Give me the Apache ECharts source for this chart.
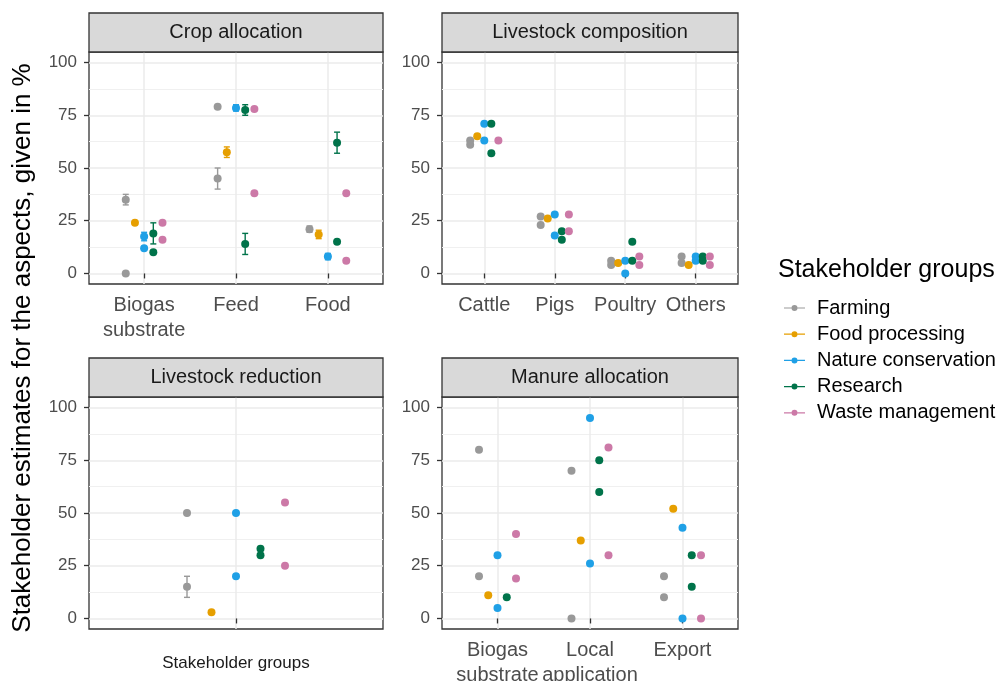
<!DOCTYPE html>
<html><head><meta charset="utf-8">
<script src="https://cdn.jsdelivr.net/npm/echarts@6/dist/echarts.min.js"></script>
<style>html,body{margin:0;padding:0;background:#fff}#c{width:1000px;height:681px}</style>
</head><body><div id="c"></div>
<script>
// ---------- data ----------
const groups = ['Farming', 'Food processing', 'Nature conservation', 'Research', 'Waste management'];
const groupColors = ['#999999', '#E69F00', '#1FA0E6', '#00734A', '#CC79A7'];
const yTicks = [0, 25, 50, 75, 100];
const yMinorTicks = [12.5, 37.5, 62.5, 87.5];

const panelTitles = ['Crop allocation', 'Livestock composition', 'Livestock reduction', 'Manure allocation'];
const cropCategories = ['Biogas\nsubstrate', 'Feed', 'Food'];
const compositionCategories = ['Cattle', 'Pigs', 'Poultry', 'Others'];
const reductionCategories = ['Stakeholder groups'];
const manureCategories = ['Biogas\nsubstrate', 'Local\napplication', 'Export'];

// rows: [category index, group index, value (%), error bar half-width (0 = none)]
const cropRows = [
  [0,0,35,2.5],[0,0,0,0],[0,1,24,0],[0,2,17.5,2],[0,2,12,0],[0,3,19,5],[0,3,10,0],[0,4,24,0],[0,4,16,0],
  [1,0,79,0],[1,0,45,5],[1,1,57.5,2.5],[1,2,78.5,1.5],[1,3,77.5,2.5],[1,3,14,5],[1,4,78,0],[1,4,38,0],
  [2,0,21,1.5],[2,1,18.5,2],[2,2,8,1.5],[2,3,62,5],[2,3,15,0],[2,4,38,0],[2,4,6,0]
];
const compositionRows = [
  [0,0,63,0],[0,0,61,0],[0,1,65,0],[0,2,71,0],[0,2,63,0],[0,3,71,0],[0,3,57,0],[0,4,63,0],
  [1,0,27,0],[1,0,23,0],[1,1,26,0],[1,2,28,0],[1,2,18,0],[1,3,20,0],[1,3,16,0],[1,4,28,0],[1,4,20,0],
  [2,0,6,0],[2,0,4,0],[2,1,5,0],[2,2,6,0],[2,2,0,0],[2,3,15,0],[2,3,6,0],[2,4,8,0],[2,4,4,0],
  [3,0,8,0],[3,0,5,0],[3,1,4,0],[3,2,8,0],[3,2,6,0],[3,3,8,0],[3,3,6,0],[3,4,8,0],[3,4,4,0]
];
const reductionRows = [
  [0,0,50,0],[0,0,15,5],[0,1,3,0],[0,2,50,0],[0,2,20,0],[0,3,33,0],[0,3,30,0],[0,4,55,0],[0,4,25,0]
];
const manureRows = [
  [0,0,80,0],[0,0,20,0],[0,1,11,0],[0,2,30,0],[0,2,5,0],[0,3,10,0],[0,4,40,0],[0,4,19,0],
  [1,0,70,0],[1,0,0,0],[1,1,37,0],[1,2,95,0],[1,2,26,0],[1,3,75,0],[1,3,60,0],[1,4,81,0],[1,4,30,0],
  [2,0,20,0],[2,0,10,0],[2,1,52,0],[2,2,43,0],[2,2,0,0],[2,3,30,0],[2,3,15,0],[2,4,30,0],[2,4,0,0]
];

// ---------- layout ----------
const FONT = "'Liberation Sans', Arial, sans-serif";
const panels = [
  {cats: cropCategories, rows: cropRows, left: 89, top: 52, width: 294, height: 232},
  {cats: compositionCategories, rows: compositionRows, left: 442, top: 52, width: 296, height: 232},
  {cats: reductionCategories, rows: reductionRows, left: 89, top: 397, width: 294, height: 232},
  {cats: manureCategories, rows: manureRows, left: 442, top: 397, width: 296, height: 232}
];
const dodge = 0.1;
const stripH = 39;

const grids = [], xAxes = [], yAxes = [], series = [], graphics = [];
panels.forEach((p, pi) => {
  grids.push({left: p.left, top: p.top, width: p.width, height: p.height, show: true,
    backgroundColor: '#fff', borderColor: '#333', borderWidth: 1.3, containLabel: false,
    outerBoundsMode: 'none'});
  const catTicks = p.cats.map((c, i) => i + 1);
  const single = p.cats.length === 1;
  xAxes.push({type: 'value', gridIndex: pi, min: 0.4, max: p.cats.length + 0.6,
    axisLine: {show: false},
    axisTick: {show: true, customValues: catTicks, length: 5, lineStyle: {color: '#333', width: 1.3}},
    axisLabel: {show: true, customValues: catTicks, formatter: v => p.cats[Math.round(v) - 1] || '',
      fontSize: single ? 17 : 20, lineHeight: 25, color: single ? '#1A1A1A' : '#4D4D4D',
      fontFamily: FONT, margin: single ? 22 : 9},
    splitLine: {show: true, lineStyle: {color: '#EBEBEB', width: 1.5}}});
  yAxes.push({type: 'value', gridIndex: pi, min: -5, max: 105,
    axisLine: {show: false},
    axisTick: {show: true, customValues: yTicks, length: 5, lineStyle: {color: '#333', width: 1.3}},
    axisLabel: {show: true, customValues: yTicks, fontSize: 17, color: '#4D4D4D', fontFamily: FONT, margin: 12},
    splitLine: {show: true, lineStyle: {color: '#EBEBEB', width: 1.5}}});
  yAxes.push({type: 'value', gridIndex: pi, min: -5, max: 105, position: 'left',
    axisLine: {show: false},
    axisTick: {show: false, customValues: yMinorTicks},
    axisLabel: {show: false, customValues: yMinorTicks},
    splitLine: {show: true, lineStyle: {color: '#F0F0F0', width: 1}}});

  groups.forEach((g, gi) => {
    const mine = p.rows.filter(r => r[1] === gi);
    const pts = mine.map(r => [r[0] + 1 + (gi - 2) * dodge, r[2]]);
    const errs = mine.filter(r => r[3] > 0).map(r => [r[0] + 1 + (gi - 2) * dodge, r[2], r[3]]);
    if (errs.length) {
      series.push({type: 'custom', name: g + ' error', xAxisIndex: pi, yAxisIndex: pi * 2,
        data: errs, z: 3, silent: true,
        renderItem: (params, api) => {
          const x = api.value(0), y = api.value(1), e = api.value(2);
          const t = api.coord([x, y + e]), b = api.coord([x, y - e]);
          const st = {stroke: groupColors[gi], lineWidth: 1.4};
          return {type: 'group', children: [
            {type: 'line', shape: {x1: t[0], y1: t[1], x2: b[0], y2: b[1]}, style: st},
            {type: 'line', shape: {x1: t[0] - 3, y1: t[1], x2: t[0] + 3, y2: t[1]}, style: st},
            {type: 'line', shape: {x1: b[0] - 3, y1: b[1], x2: b[0] + 3, y2: b[1]}, style: st}
          ]};
        }});
    }
    series.push({type: 'scatter', name: g, xAxisIndex: pi, yAxisIndex: pi * 2, data: pts,
      symbol: 'circle', symbolSize: 8, z: 4,
      itemStyle: {color: groupColors[gi], opacity: 1}});
  });

  graphics.push({type: 'rect', shape: {x: p.left, y: p.top - stripH, width: p.width, height: stripH},
    style: {fill: '#D9D9D9', stroke: '#333', lineWidth: 1.3}, z: 10});
  graphics.push({type: 'text', x: p.left + p.width / 2, y: p.top - stripH / 2, z: 11,
    style: {text: panelTitles[pi], fill: '#1A1A1A', font: '20px ' + FONT, align: 'center', verticalAlign: 'middle'}});
});

graphics.push({type: 'text', x: 23, y: 348, rotation: Math.PI / 2, z: 11,
  style: {text: 'Stakeholder estimates for the aspects, given in %', fill: '#000',
    font: '26px ' + FONT, align: 'center', verticalAlign: 'middle'}});
graphics.push({type: 'text', x: 778, y: 270, z: 11,
  style: {text: 'Stakeholder groups', fill: '#000', font: '25px ' + FONT, align: 'left', verticalAlign: 'middle'}});

const legendIcon = 'path://M0,2.4H7.5V3.6H0Z M13.5,2.4H21V3.6H13.5Z M13.5,3A3,3 0 1,1 7.5,3A3,3 0 1,1 13.5,3Z';

const chart = echarts.init(document.getElementById('c'), null, {renderer: 'canvas'});
chart.setOption({
  animation: false,
  backgroundColor: '#fff',
  grid: grids, xAxis: xAxes, yAxis: yAxes, series: series,
  legend: {data: groups.map(g => ({name: g, icon: legendIcon})), orient: 'vertical', left: 779, top: 293,
    itemWidth: 21, itemHeight: 6, itemGap: 6.2, selectedMode: false,
    textStyle: {fontSize: 20, lineHeight: 20, color: '#000', fontFamily: FONT, padding: [0, 0, 0, 7]}},
  graphic: graphics
});
</script></body></html>
